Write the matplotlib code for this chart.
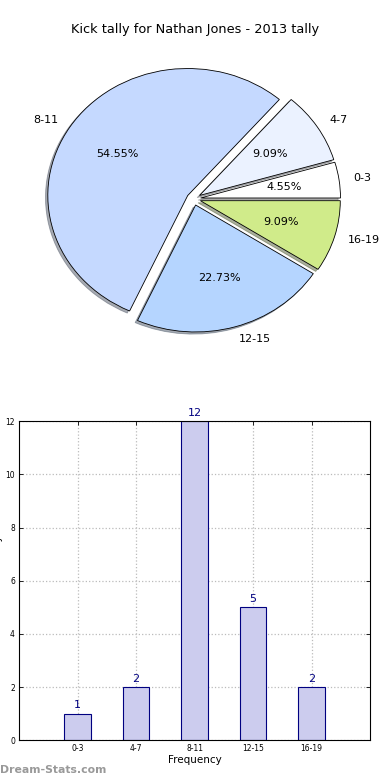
import matplotlib
matplotlib.use("Agg")
import matplotlib.pyplot as plt
import numpy as np

# data
categories = ["0-3", "4-7", "8-11", "12-15", "16-19"]
tally = [1, 2, 12, 5, 2]
pie_colors = ["#ffffff", "#ebf2ff", "#c5d9ff", "#b5d5ff", "#d0eb8a"]
y_ticks = [0, 2, 4, 6, 8, 10, 12]

fig = plt.figure(figsize=(3.9, 7.8), dpi=100)

# --------------------------------------------------------------------------- #
# Pie
# --------------------------------------------------------------------------- #
ax1 = fig.add_axes([0.048, 0.5415, 0.897, 0.407])
wedges, texts, autotexts = ax1.pie(
    tally, labels=categories, colors=pie_colors, explode=[0.05] * len(tally),
    autopct="%.2f%%", startangle=0,
    shadow=dict(ox=-0.012, oy=-0.012, shade=0.6),
    wedgeprops=dict(edgecolor="black", linewidth=0.6),
    textprops=dict(fontsize=8))
ax1.set_aspect("auto")
ax1.set_xlim(-1.25, 1.25)
ax1.set_ylim(-1.25, 1.25)
ax1.axis("off")
fig.text(0.5, 0.962, "Kick tally for Nathan Jones - 2013 tally",
         ha="center", va="center", fontsize=9.3)

# --------------------------------------------------------------------------- #
# Bars
# --------------------------------------------------------------------------- #
ax2 = fig.add_axes([0.049, 0.051, 0.9, 0.409])
x = np.arange(len(categories))
ax2.bar(x, tally, width=0.45, color="#ccccee", edgecolor="navy", linewidth=0.8,
        zorder=2)
for xi, v in zip(x, tally):
    ax2.text(xi, v + 0.12, str(v), ha="center", va="bottom",
             color="navy", fontsize=8)
ax2.set_xlim(-1, 5)
ax2.set_ylim(0, 12)
ax2.set_xticks(x)
ax2.set_xticklabels(categories)
ax2.set_yticks(y_ticks)
ax2.tick_params(direction="in", labelsize=5.5, length=3, width=0.6,
                top=True, right=True, pad=3)
ax2.grid(True, linestyle=":", color="#bbbbbb", linewidth=0.9, zorder=0)
ax2.set_xlabel("Frequency", fontsize=7.5, labelpad=1)
ax2.set_ylabel("Stat Interval Tally", fontsize=7.5, labelpad=2)
for s in ax2.spines.values():
    s.set_linewidth(0.8)

fig.text(0.0, 0.013, "Dream-Stats.com", color="#999999", fontsize=7.8,
         fontweight="bold", ha="left", va="center")

fig.savefig("out.png", dpi=100)
